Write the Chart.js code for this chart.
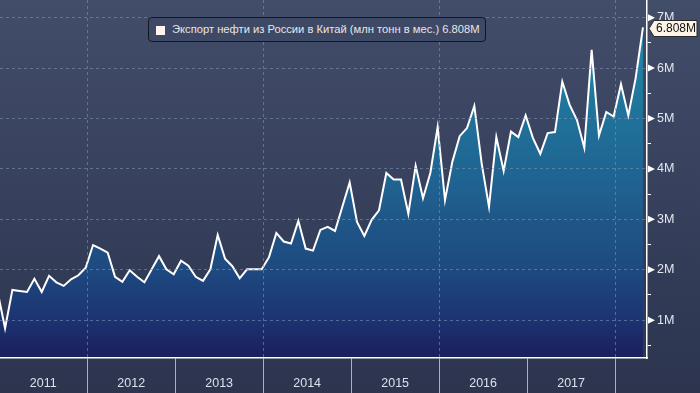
<!DOCTYPE html>
<html>
<head>
<meta charset="utf-8">
<script src="https://cdn.jsdelivr.net/npm/chart.js@4.4.1/dist/chart.umd.min.js"></script>
<style>
  html, body { margin: 0; padding: 0; }
  body { width: 700px; height: 393px; overflow: hidden; background: linear-gradient(#424d6a, #2c344e); }
  #wrap { position: relative; width: 700px; height: 393px; }
  #legend {
    position: absolute; left: 148px; top: 17px; width: 338px; height: 25px;
    box-sizing: border-box; border: 1px solid #14161e; border-radius: 4px;
    background: #3e4965; color: #e6e6e6; white-space: nowrap;
    font: 11.2px "Liberation Sans", Arial, sans-serif; line-height: 23px; padding-left: 23px;
  }
  #legend .sw { position: absolute; left: 7px; top: 8px; width: 9px; height: 9px; background: #fff4f0; }
</style>
</head>
<body>
<div id="wrap">
  <canvas id="c" width="700" height="393"></canvas>
  <div id="legend"><span class="sw"></span><span id="legendText"></span></div>
</div>
<script>
// ---------- DATA ----------
// monthly, Dec 2010 .. Apr 2018, million tonnes
const exportsMt = [
  1.55, 0.84, 1.60, 1.58, 1.56, 1.82, 1.56, 1.88, 1.75, 1.68, 1.81, 1.89,
  2.04, 2.49, 2.42, 2.34, 1.86, 1.76, 1.99, 1.86, 1.75, 2.01, 2.27, 2.01,
  1.91, 2.18, 2.08, 1.86, 1.78, 2.01, 2.69, 2.22, 2.07, 1.83, 2.01, 2.01,
  2.01, 2.25, 2.73, 2.56, 2.52, 2.97, 2.42, 2.38, 2.79, 2.85, 2.77, 3.25,
  3.73, 2.95, 2.67, 2.99, 3.18, 3.92, 3.79, 3.79, 3.11, 4.06, 3.42, 3.92,
  4.83, 3.38, 4.14, 4.65, 4.81, 5.25, 4.11, 3.25, 4.63, 3.96, 4.74, 4.63,
  5.06, 4.61, 4.30, 4.71, 4.73, 5.73, 5.27, 4.97, 4.42, 6.36, 4.66, 5.13,
  5.04, 5.68, 5.06, 5.80, 6.808
];
const years = ['2011', '2012', '2013', '2014', '2015', '2016', '2017'];
const yMajor = [1, 2, 3, 4, 5, 6, 7];
const seriesName = 'Экспорт нефти из России в Китай (млн тонн в мес.)';

// ---------- Helpers ----------
const FONT = '"Liberation Sans", Arial, sans-serif';
const yearStart = (k) => 0.2 + 12 * k;      // k = years since 2011
const yearMid = (k) => 6.2 + 12 * k;
const boundaries = years.map((_, k) => yearStart(k + 1));
const centers = years.map((_, k) => yearMid(k));
const halfSteps = [];
for (let v = 0.5; v <= 7; v += 0.5) halfSteps.push(v);

const last = exportsMt[exportsMt.length - 1];
const lastTxt = last.toFixed(3) + 'M';
document.getElementById('legendText').textContent = seriesName + ' ' + lastTxt;

const gridCol = 'rgba(125,145,180,0.6)';

function fillGradient(ctx) {
  const ca = ctx.chart.chartArea;
  if (!ca) return 'transparent';
  const g = ctx.chart.ctx.createLinearGradient(0, ca.top, 0, ca.bottom);
  g.addColorStop(0, '#2392b2');
  g.addColorStop(0.14, '#2284a7');
  g.addColorStop(0.28, '#20769c');
  g.addColorStop(0.53, '#1f6190');
  g.addColorStop(0.61, '#1f5787');
  g.addColorStop(0.75, '#1e4a80');
  g.addColorStop(0.89, '#1c3472');
  g.addColorStop(1, '#1b1e5c');
  return g;
}

// triangles on the right axis + last value badge
const axisMarks = {
  id: 'axisMarks',
  afterDraw(chart) {
    const { ctx, scales: { y }, chartArea } = chart;
    const x0 = chartArea.right;
    ctx.save();
    ctx.fillStyle = '#ffffff';
    yMajor.forEach(v => {
      const py = y.getPixelForValue(v);
      ctx.beginPath();
      ctx.moveTo(x0 + 1, py - 3.5);
      ctx.lineTo(x0 + 8, py);
      ctx.lineTo(x0 + 1, py + 3.5);
      ctx.closePath();
      ctx.fill();
    });

    const py = Math.round(y.getPixelForValue(last)) + 1.5;
    ctx.beginPath();
    ctx.moveTo(x0 + 2, py);
    ctx.lineTo(x0 + 7, py - 8);
    ctx.lineTo(697, py - 8);
    ctx.lineTo(697, py + 8);
    ctx.lineTo(x0 + 7, py + 8);
    ctx.closePath();
    ctx.fillStyle = '#fdf4e8';
    ctx.fill();
    ctx.strokeStyle = '#2a2a2a';
    ctx.lineWidth = 1;
    ctx.stroke();
    ctx.fillStyle = '#111111';
    ctx.font = '12px ' + FONT;
    ctx.textBaseline = 'middle';
    ctx.fillText(lastTxt, x0 + 9, py + 0.5);
    ctx.restore();
  }
};

new Chart(document.getElementById('c'), {
  type: 'line',
  data: {
    datasets: [{
      data: exportsMt.map((v, i) => ({ x: i, y: v })),
      borderColor: '#ffffff',
      borderWidth: 2,
      pointRadius: 0,
      tension: 0,
      fill: 'start',
      backgroundColor: fillGradient
    }]
  },
  options: {
    responsive: false,
    animation: false,
    devicePixelRatio: 1,
    layout: { padding: 0 },
    plugins: { legend: { display: false }, tooltip: { enabled: false } },
    scales: {
      x: {
        type: 'linear',
        min: 0.31,
        max: 88.55,
        afterBuildTicks: s => {
          s.ticks = [...boundaries, ...centers].sort((a, b) => a - b).map(v => ({ value: v }));
        },
        ticks: {
          autoSkip: false, maxRotation: 0, padding: -17,
          color: '#dde1ea', font: { size: 12.5, family: FONT },
          callback: v => {
            const k = centers.findIndex(c => Math.abs(c - v) < 0.01);
            return k >= 0 ? years[k] : '';
          }
        },
        grid: {
          z: 1,
          tickLength: 35,
          lineWidth: 1,
          color: c => {
            const k = boundaries.findIndex(b => Math.abs(b - c.tick.value) < 0.01);
            return (k >= 0 && k % 2 === 0) ? gridCol : 'rgba(0,0,0,0)';
          },
          tickColor: c => boundaries.some(b => Math.abs(b - c.tick.value) < 0.01) ? '#a9b0c0' : 'rgba(0,0,0,0)'
        },
        border: { color: '#ffffff', width: 1.5, dash: [3, 3], z: 2 },
        afterFit: s => { s.height = 35; s.paddingLeft = 0; s.paddingRight = 0; }
      },
      y: {
        position: 'right',
        min: 0.25,
        max: 7.35,
        afterBuildTicks: s => { s.ticks = halfSteps.map(v => ({ value: v })); },
        ticks: {
          padding: 6, color: '#e4e7ee', font: { size: 12.5, family: FONT },
          callback: v => Number.isInteger(v) ? v + 'M' : ''
        },
        grid: {
          z: 1,
          tickLength: 4,
          color: c => Number.isInteger(c.tick.value) ? gridCol : 'rgba(0,0,0,0)',
          tickColor: c => Number.isInteger(c.tick.value) ? 'rgba(0,0,0,0)' : '#ffffff'
        },
        border: { color: '#ffffff', width: 1.5, dash: [3, 3], z: 2 },
        afterFit: s => { s.width = 53; s.paddingTop = 0; s.paddingBottom = 0; }
      }
    }
  },
  plugins: [axisMarks]
});
</script>
</body>
</html>
